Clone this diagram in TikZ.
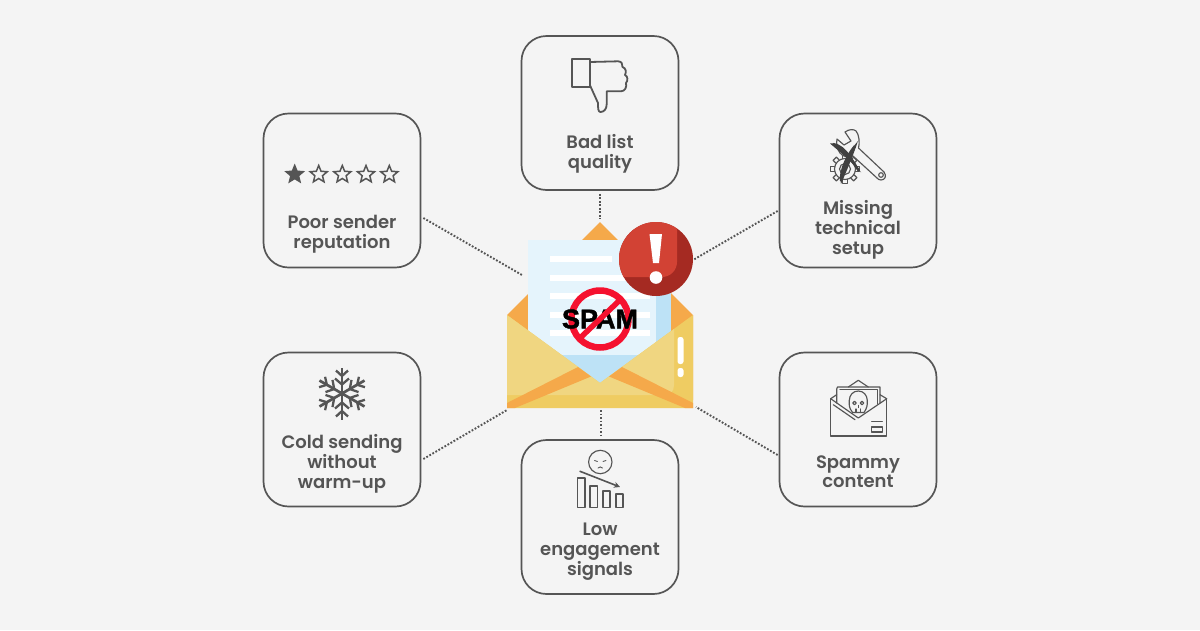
\documentclass[tikz,border=0pt]{standalone}
\usepackage{fontspec}
\usetikzlibrary{shapes.geometric,arrows.meta}
\setmainfont{Poppins}[UprightFont=* Medium,BoldFont=* SemiBold]
\newfontfamily\arialb{Liberation Sans Bold}[FakeBold=1.6]
\definecolor{bgc}{HTML}{F4F4F4}
\definecolor{ink}{HTML}{555555}
\definecolor{orangec}{HTML}{F5A94A}
\definecolor{yellowa}{HTML}{F0D681}
\definecolor{yellowb}{HTML}{EFCC62}
\definecolor{paperc}{HTML}{E5F4FC}
\definecolor{paperd}{HTML}{BDE2F6}
\definecolor{reda}{HTML}{D24234}
\definecolor{redb}{HTML}{A52A22}
\definecolor{nored}{HTML}{F5112F}
\tikzset{
  card/.style={draw=ink,line width=1.7pt,rounded corners=25pt,minimum width=157pt,minimum height=154pt,inner sep=0pt,fill=bgc},
  cardtext/.style={text=ink,font=\fontsize{18}{20}\selectfont\bfseries,align=center,inner sep=0pt},
  conn/.style={draw=ink,line width=1.9pt,dash pattern=on 1.8pt off 1.7pt},
  iconline/.style={draw=ink,line width=1.8pt,line join=round,line cap=round},
  thinline/.style={draw=ink,line width=1.15pt,line join=round,line cap=round},
  flake/.style={draw=ink,line width=2.7pt,line cap=butt},
  starc/.style={star,star points=5,star point ratio=2.25,minimum size=18pt,inner sep=0pt,draw=ink,line width=1.5pt,line join=miter},
  paperline/.style={fill=white,draw=none},
}
\begin{document}
\begin{tikzpicture}[x=1pt,y=-1pt]
\useasboundingbox (0,0) rectangle (1200,630);
\fill[bgc] (0,0) rectangle (1200,630);

% cards
\node[card] (ct) at (600,113) {};
\node[card] (lt) at (342,190.5) {};
\node[card] (rt) at (858,190.5) {};
\node[card] (lb) at (342,429.5) {};
\node[card] (rb) at (858,429.5) {};
\node[card] (cb) at (600,517) {};

% texts
\node[cardtext] (tt) at (600,153.5) {Bad list\\quality};
\node[cardtext] (tlt) at (342,234.5) {Poor sender\\reputation};
\node[cardtext] (trt) at (858,229.5) {Missing\\technical\\setup};
\node[cardtext] (tlb) at (342,463.5) {Cold sending\\without\\warm-up};
\node[cardtext] (trb) at (858,471.7) {Spammy\\content};
\node[cardtext] (tcb) at (600,551.5) {Low\\engagement\\signals};

% connector free ends
\coordinate (e1) at (600,219);
\coordinate (e2) at (522,275);
\coordinate (e3) at (693,260);
\coordinate (e4) at (507,410);
\coordinate (e5) at (696,407);
\coordinate (e6) at (601,436);
\coordinate (e7) at (601,410);
\draw[conn] ([yshift=-3pt]ct.south) -- (e1);
\draw[conn] ([xshift=2pt,yshift=-27.5pt]lt.east) -- (e2);
\draw[conn] ([xshift=-1pt,yshift=-20.5pt]rt.west) -- (e3);
\draw[conn] ([xshift=2pt,yshift=-29.5pt]lb.east) -- (e4);
\draw[conn] ([xshift=-1pt,yshift=-25.5pt]rb.west) -- (e5);
\draw[conn] (e7) -- (e6);

% envelope back
\fill[orangec] (507,315) -- (600,222) -- (693,315) -- (693,400) -- (507,400) -- cycle;
% paper
\fill[paperc] (528,240) rectangle (656,356);
\fill[paperd] (656,240) rectangle (671,356);
\fill[paperd] (528,355) rectangle (671,392);
\foreach \yy/\xe in {259/612,278/650,296/650,315/650,333/650}
  \fill[paperline] (550,\yy-3) rectangle (\xe,\yy+3);
% envelope front
\fill[yellowb] (507,315) -- (600,383) -- (693,315) -- (693,408) -- (507,408) -- cycle;
\fill[yellowa] (507,315) -- (600,383) -- (674,329) -- (674,385) .. controls (674,392) and (670,395) .. (664,395) -- (507,395) -- cycle;
\fill[orangec] (507,403) -- (578,367) -- (591,376.5) -- (515,408) -- (507,408) -- cycle;
\fill[orangec] (693,403) -- (622,367) -- (609,376.5) -- (685,408) -- (693,408) -- cycle;
\fill[white,rounded corners=2.5pt] (677.5,337) rectangle (683.5,364);
\fill[white,rounded corners=2.5pt] (677.5,368) rectangle (683.5,377);

% no sign and SPAM
\draw[nored,line width=6.5pt] (600,319) circle (28.5);
\node[inner sep=0pt,font=\arialb\fontsize{27}{27}\selectfont,text=black] (spam) at (600,319) {SPAM};
\draw[nored,line width=5.5pt] (621,299) -- (579,339);

% alert
\fill[redb] (656,259) circle (37);
\begin{scope}
  \clip (656,259) circle (37);
  \fill[reda,rounded corners=15pt] (600,200) rectangle (677,277);
\end{scope}
\fill[white] (649.5,234) -- (662,234) -- (659,263) -- (653,263) -- cycle;
\fill[white] (656,277.5) circle (6.3);

% thumb down
\draw[iconline] (572.3,58.7) rectangle (590,87);
\draw[iconline] (590,62) -- (618,61.3) .. controls (622,61.5) and (622.5,64) .. (622.5,67)
  .. controls (626,68) and (626.5,72) .. (625,75) .. controls (628,76) and (628,81) .. (626,83)
  .. controls (627,87) and (625,91.3) .. (621,91.3) -- (606.7,91.3) -- (606.7,104)
  .. controls (606.7,109) and (604,112) .. (600.5,112) .. controls (598,112) and (598,108) .. (598,103)
  -- (590,85.3);

% stars
\node[starc,fill=ink] (s1) at (294.7,174.5) {};
\foreach \xx/\nn in {318.7/s2,342.3/s3,366/s4,389.3/s5}
  \node[starc] (\nn) at (\xx,174.5) {};

% tools: gear
\foreach \aa in {0,45,...,315}
  \draw[thinline,fill=bgc,rotate around={\aa:(845,169)}] (842.7,158.5) -- (842.7,154.5) -- (847.3,154.5) -- (847.3,158.5);
\draw[thinline] (845,169) circle (10.5);
\draw[thinline] (845,169) circle (5.5);
% tools: wrench
\draw[thinline,fill=bgc] (845,132) .. controls (849,129) and (854,129) .. (856,131)
  .. controls (859,134) and (860,143) .. (858.5,148) -- (884,172)
  .. controls (887,176) and (885,180) .. (881,180) .. controls (879,180) and (878,179) .. (877,178)
  -- (853,156) .. controls (849,158) and (843,157) .. (840,153)
  .. controls (837,149) and (836,144) .. (837,139) -- (844,145) -- (851,141) -- cycle;
\draw[thinline] (881,175) circle (2.3);
% tools: X
\fill[ink!75!black] (830,143.5) .. controls (842,141) and (851,155) .. (861,172.5)
  .. controls (850,160) and (840,152) .. (830,143.5) -- cycle;
\fill[ink!75!black] (858,141) .. controls (850,150) and (838,168) .. (841,184)
  .. controls (847,170) and (853,156) .. (858,141) -- cycle;
\draw[ink!75!black,line width=2.4pt] (833,144) .. controls (842,147) and (850,158) .. (859,171);
\draw[ink!75!black,line width=2.4pt] (855,146) .. controls (848,154) and (840,170) .. (841,181);

% spam envelope
\draw[thinline] (830.7,398.7) -- (830.7,436) -- (886.7,436) -- (886.7,398.7);
\draw[thinline] (830.7,398.7) -- (858.3,418) -- (886.7,398.7);
\draw[thinline] (833.3,404.7) -- (855,419.7);
\draw[thinline] (848.3,387) -- (858.3,380.3) -- (868.3,387);
\draw[thinline] (836.7,403) -- (836.7,389) -- (837.5,387) -- (880,387) -- (880,403);
\draw[thinline] (840,389.3) -- (877.3,389.3) -- (877.3,404);
\draw[thinline] (830.7,398.7) -- (836.7,394.7);
\draw[thinline] (886.7,398.7) -- (880,394.7);
\draw[thinline,fill=bgc] (852.3,412) .. controls (849,408) and (849,405) .. (849.3,400.3)
  .. controls (849.5,395) and (853,391) .. (858.3,391) .. controls (863.5,391) and (867,395) .. (867.3,400.3)
  .. controls (867.5,405) and (867,408) .. (864.3,412) -- (864,412.5) -- (852.5,412.5) -- cycle;
\draw[thinline] (854.5,403) circle (1.8);
\draw[thinline] (862,403) circle (1.8);
\draw[thinline] (858.3,405.5) -- (858.3,407.5);
\draw[thinline] (856,409) -- (856,412.5);
\draw[thinline] (860.5,409) -- (860.5,412.5);
\draw[thinline] (871.7,421.3) -- (882.3,421.3);
\draw[thinline] (871.7,427) rectangle (882.3,432);

% snowflake
\foreach \aa in {0,60,...,300}{
  \begin{scope}[shift={(342,393.5)},rotate=\aa]
    \draw[flake] (0,0) -- (0,-26);
    \draw[flake,line width=2.3pt] (-7,-15) -- (0,-9) -- (7,-15);
    \draw[flake,line width=2.3pt] (-6,-23) -- (0,-17.5) -- (6,-23);
  \end{scope}
}

% low engagement
\draw[thinline] (600.3,462) circle (11.7);
\draw[thinline,line width=.9pt] (594.5,460.5) -- (597.5,461.5);
\draw[thinline,line width=.9pt] (603,461.5) -- (606,460.5);
\draw[thinline,line width=.9pt] (598,468) .. controls (599,466.5) and (601.5,466.5) .. (602.5,468);
\draw[iconline,line width=1.6pt,-{Stealth[length=6pt,width=6pt]}] (580,471.3) -- (620,487);
\draw[iconline,line width=1.6pt] (577.3,478) rectangle (584.7,507.3);
\draw[iconline,line width=1.6pt] (590,485.7) rectangle (597.3,507.3);
\draw[iconline,line width=1.6pt] (602.7,490.7) rectangle (610,507.3);
\draw[iconline,line width=1.6pt] (615.7,494) rectangle (622.7,507.3);
\end{tikzpicture}
\end{document}
